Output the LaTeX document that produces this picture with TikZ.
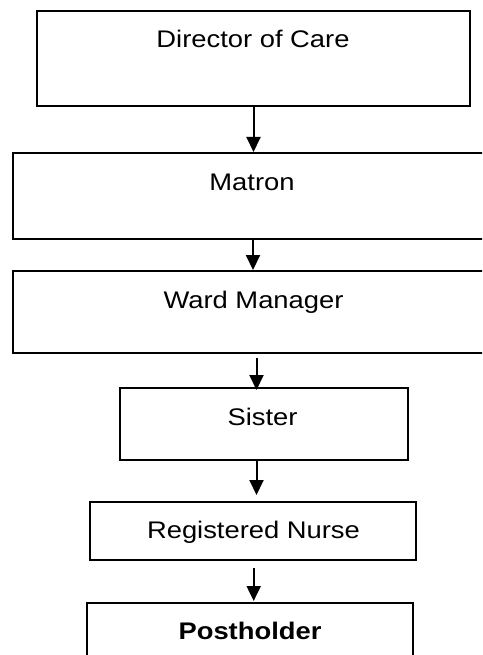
\documentclass[tikz,border=0pt]{standalone}
\usepackage{fontspec}
\setmainfont[FakeStretch=1.14]{Liberation Sans}
\usetikzlibrary{arrows.meta,calc}
\begin{document}
\begin{tikzpicture}[x=1pt,y=-1pt,
  box/.style={draw,line width=2pt,rectangle,inner sep=0pt,anchor=north west},
  lbl/.style={anchor=base,inner sep=0pt,font=\fontsize{24}{28}\selectfont},
  arr/.style={line width=2pt,-{Triangle[length=15pt,width=14pt]}}]
\useasboundingbox (0,0) rectangle (482,655);
\clip (0,0) rectangle (482,655);
% boxes
\node[box,minimum width=433pt,minimum height=95pt] (b1) at (36,10) {};
\node[box,minimum width=480pt,minimum height=86pt] (b2) at (12,152) {};
\node[box,minimum width=480pt,minimum height=82pt] (b3) at (12,270) {};
\node[box,minimum width=288pt,minimum height=72pt] (b4) at (119,387) {};
\node[box,minimum width=326pt,minimum height=58pt] (b5) at (89,501) {};
\node[box,minimum width=326pt,minimum height=80pt] (b6) at (86,602) {};
% labels
\node[lbl] (t1) at ($(b1.north)+(-0.5,37.5)$) {Director of Care};
\node[lbl] (t2) at ($(b2.north)+(-1,38)$) {Matron};
\node[lbl] (t3) at ($(b3.north)+(0.5,38)$) {Ward Manager};
\node[lbl] (t4) at ($(b4.north)+(-1.5,38)$) {Sister};
\node[lbl] (t5) at ($(b5.north)+(0.5,37)$) {Registered Nurse};
\node[lbl] (t6) at ($(b6.north)+(0,37)$) {\bfseries Postholder};
% connectors
\coordinate (a1s) at (b1.south);
\coordinate (a1e) at (b1.south |- b2.north);
\coordinate (a2s) at (b2.south);
\coordinate (a2e) at (b2.south |- b3.north);
\coordinate (a3s) at ($(b3.south)+(3.5,4)$);
\coordinate (a3e) at ($(b3.south |- b4.north)+(3.5,3)$);
\coordinate (a4s) at ($(b4.south)+(-7.5,0)$);
\coordinate (a4e) at ($(b4.south |- b5.north)+(-7.5,-6)$);
\coordinate (a5s) at ($(b5.south)+(0.7,7)$);
\coordinate (a5e) at ($(b5.south |- b6.north)+(0.7,-1)$);
\draw[arr] (a1s) -- (a1e);
\draw[arr] (a2s) -- (a2e);
\draw[arr] (a3s) -- (a3e);
\draw[arr] (a4s) -- (a4e);
\draw[arr] (a5s) -- (a5e);
\end{tikzpicture}
\end{document}
